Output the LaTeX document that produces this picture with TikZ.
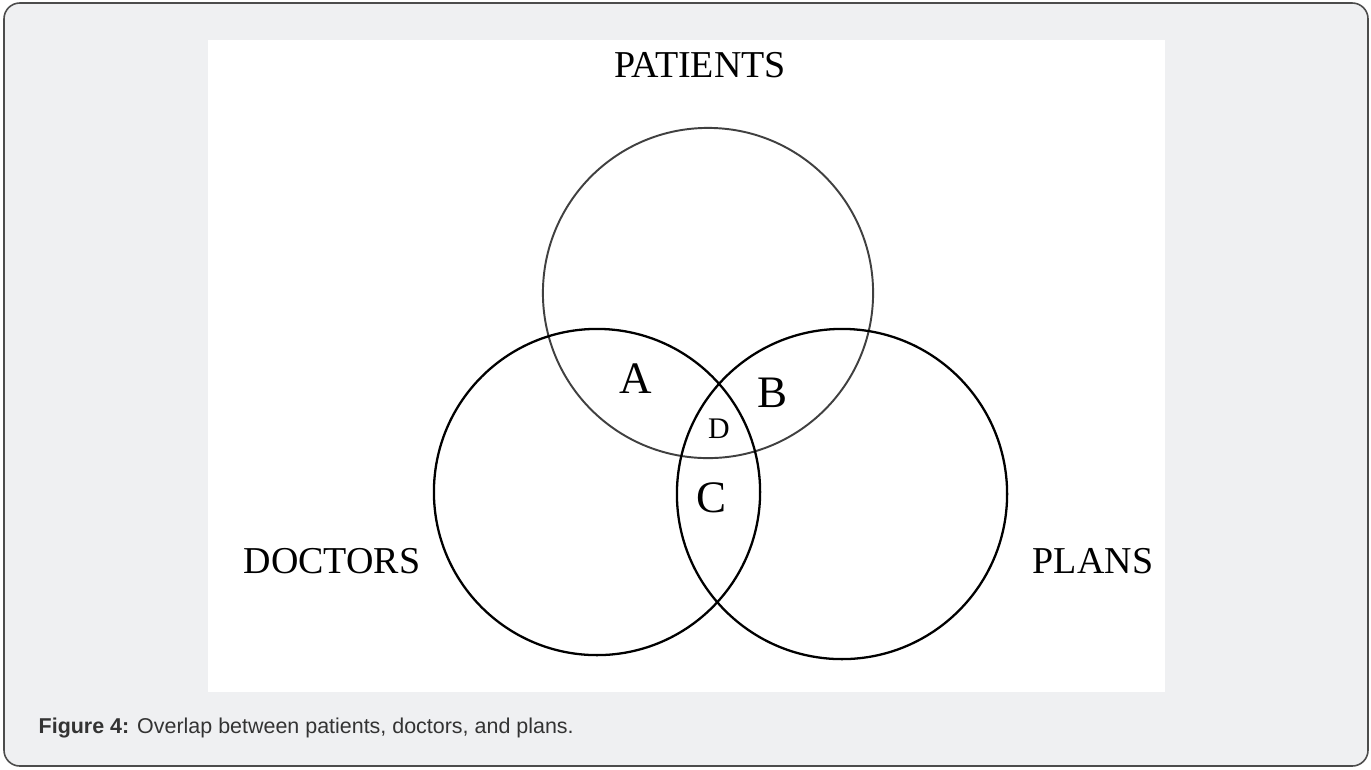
\documentclass[tikz,border=0pt]{standalone}
\usepackage{fontspec}
\setmainfont{Liberation Serif}
\newfontfamily\capfont{Liberation Sans}
\usepackage{tikz}
\usetikzlibrary{positioning}
\usepackage{xcolor}
\definecolor{pagegray}{HTML}{EFF0F2}
\definecolor{captext}{HTML}{333333}
\tikzset{
  setname/.style={anchor=base,inner sep=0pt,font=\fontsize{10.8pt}{12pt}\selectfont},
  region/.style={anchor=base,inner sep=0pt,font=\fontsize{12.8pt}{14pt}\selectfont},
  smallregion/.style={anchor=base,inner sep=0pt,font=\fontsize{8.5pt}{10pt}\selectfont},
  setring/.style={line width=0.65pt,black}
}

\begin{document}
\begin{tikzpicture}[x=0.01cm,y=-0.01cm]
\useasboundingbox(0,0)rectangle(1371,769);
\draw[fill=pagegray,draw=black!70,line width=0.45pt,rounded corners=4.5pt](4,3)rectangle(1368,766);% the outer frame
\fill[white](208,40)rectangle(1165,692);% the picture panel

\draw[setring,black!75,line width=0.55pt](708,293)circle[radius=1.65cm];% patients circle
\draw[setring](597,492)circle[radius=1.63cm];% doctors circle
\draw[setring](842,494)circle[radius=1.65cm];% plans circle

\node[setname](patients) at (700,77) {PATIENTS};
\node[setname](doctors) at (332,573) {DOCTORS};
\node[setname](plans) at (1093,573) {PLANS};

\node[region](rega) at (636,393) {A};
\node[region](regb) at (772,407) {B};
\node[smallregion](regd) at (719,438) {D};
\node[region](regc) at (711,512) {C};

% caption
\node[anchor=base west,inner sep=0pt,text=captext,font=\capfont\fontsize{6.1pt}{7pt}\selectfont](caption) at (38,733) {\textbf{Figure 4:} Overlap between patients, doctors, and plans.};

\end{tikzpicture}
\end{document}
